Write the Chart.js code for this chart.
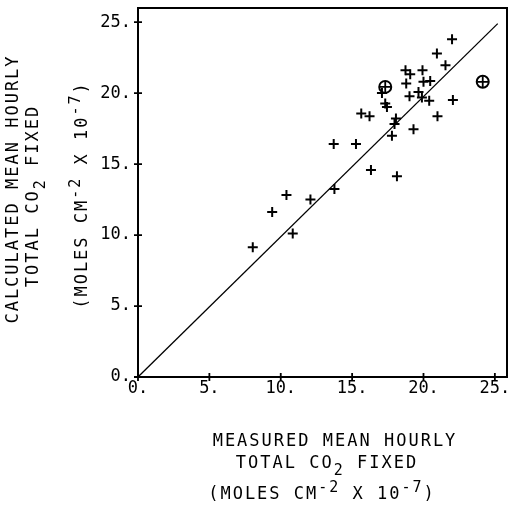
<!DOCTYPE html>
<html>
<head>
<meta charset="utf-8">
<script src="https://cdn.jsdelivr.net/npm/chart.js@4.4.1/dist/chart.umd.min.js"></script>
<style>
    html, body { margin: 0; padding: 0; background: #fff; }
    #contenedor { width: 509px; height: 515px; }
</style>
</head>
<body>
<div id="contenedor"><canvas id="graficoCO2"></canvas></div>
<script>
// Valores medidos (eje x) y calculados (eje y), moles cm-2 x 10-7
const medidos = [22.0, 20.94, 21.54, 18.74, 19.93, 19.07, 18.79, 20.0, 20.47, 17.09, 19.02, 19.65,
    19.89, 20.4, 22.06, 17.32, 17.44, 15.64, 16.22, 18.07, 17.97, 20.98, 19.3, 17.79,
    13.71, 15.27, 16.32, 18.14, 13.76, 10.4, 12.08, 9.4, 10.84, 8.04];
const calculados = [23.8, 22.8, 21.97, 21.62, 21.62, 21.34, 20.68, 20.8, 20.85, 20.01, 19.78, 20.09,
    19.69, 19.46, 19.51, 19.27, 19.03, 18.57, 18.38, 18.22, 17.82, 18.38, 17.45, 16.99,
    16.42, 16.42, 14.58, 14.15, 13.24, 12.82, 12.51, 11.63, 10.11, 9.15];

// Puntos marcados con circulo
const medidosCirculo = [17.32, 24.15];
const calculadosCirculo = [20.44, 20.8];

// Recta de referencia
const rectaX = [0, 25.2];
const rectaY = [0, 24.9];

// Marcas de los ejes
const marcasEje = [0, 5, 10, 15, 20, 25];
const etiquetasEje = ['0.', '5.', '10.', '15.', '20.', '25.'];

const FUENTE = "'DejaVu Sans Mono', monospace";

function aPuntos(xs, ys) {
    return xs.map((v, i) => ({ x: v, y: ys[i] }));
}

// Dibuja una linea de texto con subindices / superindices, centrada en (cx, cy)
function dibujarLinea(ctx, partes, cx, cy, rot) {
    ctx.save();
    ctx.translate(cx, cy);
    ctx.rotate(rot);
    ctx.textBaseline = 'middle';
    ctx.textAlign = 'left';
    ctx.fillStyle = '#000';
    ctx.letterSpacing = '2px';
    let total = 0;
    partes.forEach(p => {
        ctx.font = (p.nivel ? '15px ' : '17px ') + FUENTE;
        total += ctx.measureText(p.texto).width;
    });
    let xx = -total / 2;
    partes.forEach(p => {
        ctx.font = (p.nivel ? '15px ' : '17px ') + FUENTE;
        ctx.fillText(p.texto, xx, p.nivel * 7);
        xx += ctx.measureText(p.texto).width;
    });
    ctx.restore();
}

const tituloLinea1X = [{ texto: 'MEASURED MEAN HOURLY', nivel: 0 }];
const tituloLinea1Y = [{ texto: 'CALCULATED MEAN HOURLY', nivel: 0 }];
const tituloLinea2 = [{ texto: 'TOTAL CO', nivel: 0 }, { texto: '2', nivel: 1 }, { texto: ' FIXED', nivel: 0 }];
const tituloLinea3 = [{ texto: '(MOLES CM', nivel: 0 }, { texto: '-2', nivel: -1 },
    { texto: ' X 10', nivel: 0 }, { texto: '-7', nivel: -1 }, { texto: ')', nivel: 0 }];

const marcoYTitulos = {
    id: 'marcoYTitulos',
    afterDraw(chart) {
        const { ctx, chartArea: a, scales: { x, y } } = chart;
        ctx.save();
        ctx.strokeStyle = '#000';
        ctx.lineWidth = 2;
        ctx.strokeRect(a.left, a.top, a.right - a.left, a.bottom - a.top);

        // marcas que cruzan los ejes
        ctx.lineWidth = 1.8;
        ctx.beginPath();
        marcasEje.forEach(v => {
            const px = x.getPixelForValue(v);
            ctx.moveTo(px, a.bottom - 4);
            ctx.lineTo(px, a.bottom + 4);
            const py = y.getPixelForValue(v);
            ctx.moveTo(a.left - 4, py);
            ctx.lineTo(a.left + 4, py);
        });
        ctx.stroke();
        ctx.restore();

        // titulos del eje x
        dibujarLinea(ctx, tituloLinea1X, 335, 442, 0);
        dibujarLinea(ctx, tituloLinea2, 327, 464, 0);
        dibujarLinea(ctx, tituloLinea3, 322, 495, 0);

        // titulos del eje y
        dibujarLinea(ctx, tituloLinea1Y, 14, 189, -Math.PI / 2);
        dibujarLinea(ctx, tituloLinea2, 34, 196, -Math.PI / 2);
        dibujarLinea(ctx, tituloLinea3, 83, 195, -Math.PI / 2);
    }
};

const ctx = document.getElementById('graficoCO2').getContext('2d');
new Chart(ctx, {
    type: 'scatter',
    data: {
        datasets: [
            {
                data: aPuntos(medidos, calculados),
                pointStyle: 'cross',
                pointRadius: 5,
                borderColor: '#000',
                borderWidth: 2
            },
            {
                data: aPuntos(medidosCirculo, calculadosCirculo),
                pointStyle: 'circle',
                pointRadius: 6,
                borderColor: '#000',
                backgroundColor: 'rgba(0,0,0,0)',
                borderWidth: 2
            },
            {
                data: aPuntos(medidosCirculo, calculadosCirculo),
                pointStyle: 'cross',
                pointRadius: 5.5,
                borderColor: '#000',
                borderWidth: 1.8
            },
            {
                type: 'line',
                data: aPuntos(rectaX, rectaY),
                borderColor: '#000',
                borderWidth: 1.3,
                pointRadius: 0,
                fill: false
            }
        ]
    },
    options: {
        responsive: true,
        maintainAspectRatio: false,
        animation: false,
        layout: { autoPadding: false, padding: { top: 8, right: 2, left: 0, bottom: 0 } },
        plugins: {
            legend: { display: false },
            tooltip: { enabled: false }
        },
        scales: {
            x: {
                type: 'linear',
                min: 0,
                max: 25.85,
                afterBuildTicks: s => { s.ticks = marcasEje.map(v => ({ value: v })); },
                afterFit: s => { s.height = 138; s.paddingLeft = 0; s.paddingRight = 0; },
                ticks: {
                    callback: v => etiquetasEje[marcasEje.indexOf(v)],
                    font: { family: FUENTE, size: 17 },
                    color: '#000',
                    padding: 1,
                    maxRotation: 0,
                    autoSkip: false
                },
                grid: { display: false, drawTicks: false },
                border: { display: false }
            },
            y: {
                type: 'linear',
                min: 0,
                max: 26,
                afterBuildTicks: s => { s.ticks = marcasEje.map(v => ({ value: v })); },
                afterFit: s => { s.width = 138; s.paddingTop = 0; s.paddingBottom = 0; },
                ticks: {
                    callback: v => etiquetasEje[marcasEje.indexOf(v)],
                    font: { family: FUENTE, size: 17 },
                    color: '#000',
                    padding: 7,
                    autoSkip: false
                },
                grid: { display: false, drawTicks: false },
                border: { display: false }
            }
        }
    },
    plugins: [marcoYTitulos]
});
</script>
</body>
</html>
